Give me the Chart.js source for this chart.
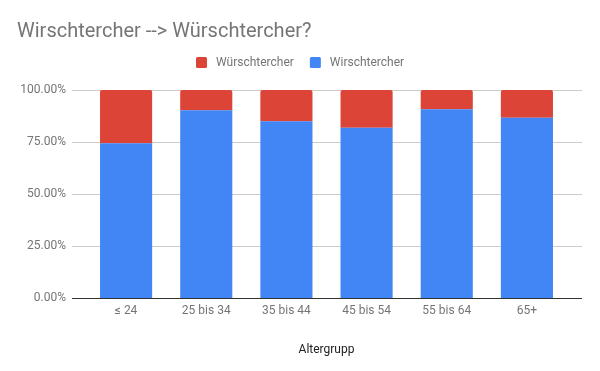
<!DOCTYPE html>
<html>
<head>
<meta charset="utf-8">
<script src="https://cdn.jsdelivr.net/npm/chart.js@4"></script>
<style>
  html, body { margin: 0; padding: 0; background: #fff; }
  #wrap { width: 600px; height: 371px; }
</style>
</head>
<body>
<div id="wrap"><canvas id="chart" width="600" height="371"></canvas></div>
<script>
const categories = ['≤ 24', '25 bis 34', '35 bis 44', '45 bis 54', '55 bis 64', '65+'];
const wirschtercher = [74.4, 90.3, 85.0, 81.8, 90.7, 86.6];
const wuerschtercher = [25.6, 9.7, 15.0, 18.2, 9.3, 13.4];
const yTicks = [0, 25, 50, 75, 100];

const BLUE = '#4285f4';
const RED = '#db4437';
const GREY = '#757575';

// gridlines reach a bit past the bars on both sides, like the sheets chart
const gridPlugin = {
  id: 'gridPlugin',
  beforeDatasetsDraw(chart) {
    const { ctx, chartArea, scales: { y } } = chart;
    const x0 = chartArea.left - 14, x1 = chartArea.right + 15;
    ctx.save();
    yTicks.forEach(v => {
      const py = Math.round(y.getPixelForValue(v)) + 0.5;
      ctx.beginPath();
      ctx.strokeStyle = v === 0 ? '#333333' : '#cccccc';
      ctx.lineWidth = 1;
      ctx.moveTo(x0, py);
      ctx.lineTo(x1, py);
      ctx.stroke();
    });
    ctx.restore();
  }
};

// legend: red first, then blue
const legendPlugin = {
  id: 'legendPlugin',
  afterDraw(chart) {
    const { ctx } = chart;
    const items = chart.data.datasets.slice().reverse();
    ctx.save();
    ctx.font = '12px Roboto';
    ctx.textBaseline = 'middle';
    let x = 196;
    const cy = 62.5;
    items.forEach(ds => {
      ctx.fillStyle = ds.backgroundColor;
      ctx.beginPath();
      ctx.roundRect(x, cy - 5.5, 11, 11, 1.5);
      ctx.fill();
      x += 20;
      ctx.fillStyle = GREY;
      ctx.fillText(ds.label, x, cy);
      x += ctx.measureText(ds.label).width + 16;
    });
    ctx.restore();
  }
};

new Chart(document.getElementById('chart'), {
  type: 'bar',
  data: {
    labels: categories,
    datasets: [
      {
        label: 'Wirschtercher',
        data: wirschtercher,
        backgroundColor: BLUE,
        borderWidth: 0
      },
      {
        label: 'Würschtercher',
        data: wuerschtercher,
        backgroundColor: RED,
        borderWidth: 0,
        borderRadius: { topLeft: 2, topRight: 2, bottomLeft: 0, bottomRight: 0 },
        borderSkipped: false
      }
    ]
  },
  options: {
    responsive: false,
    animation: false,
    devicePixelRatio: 1,
    layout: { padding: { left: 17, right: 33, top: 0, bottom: 0 } },
    datasets: {
      bar: { categoryPercentage: 1, barPercentage: 0.65 }
    },
    plugins: {
      legend: { display: false },
      tooltip: { enabled: false },
      title: {
        display: true,
        text: 'Wirschtercher --> Würschtercher?',
        align: 'start',
        color: GREY,
        font: { family: 'Roboto', size: 20, weight: 'normal' },
        padding: { top: 20, bottom: 46 }
      }
    },
    scales: {
      x: {
        stacked: true,
        grid: { display: false, drawTicks: false },
        border: { display: false },
        ticks: {
          color: GREY,
          padding: 6,
          maxRotation: 0,
          font: { family: 'Roboto', size: 12 }
        },
        title: {
          display: true,
          text: 'Altergrupp',
          color: '#222222',
          font: { family: 'Roboto', size: 12 },
          padding: { top: 0, bottom: 14 }
        },
        afterFit(scale) { scale.height = 73; }
      },
      y: {
        stacked: true,
        min: 0,
        max: 100,
        grid: { display: false, drawTicks: false },
        border: { display: false },
        ticks: {
          stepSize: 25,
          color: GREY,
          padding: 20,
          font: { family: 'Roboto', size: 12 },
          callback: v => v.toFixed(2) + '%'
        },
        afterFit(scale) { scale.width = 69; }
      }
    }
  },
  plugins: [gridPlugin, legendPlugin]
});
</script>
</body>
</html>
